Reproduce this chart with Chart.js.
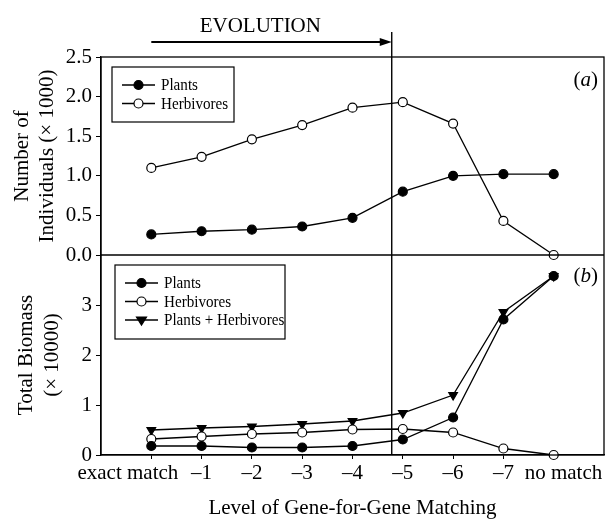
<!DOCTYPE html>
<html lang="en">
<head>
<meta charset="UTF-8" />
<title>Gene-for-Gene Matching</title>
<style>
  html, body { margin: 0; padding: 0; background: #fff; }
</style>
</head>
<body>
<canvas id="myChart" width="605" height="519"></canvas>
<script src="https://cdn.jsdelivr.net/npm/chart.js"></script>
<script>
const levels = ["exact match", "\u20131", "\u20132", "\u20133", "\u20134", "\u20135", "\u20136", "\u20137", "no match"];
// panel (a): number of individuals (x 1000)
const plantsCount = [0.26, 0.30, 0.32, 0.36, 0.47, 0.80, 1.00, 1.02, 1.02];
const herbivoresCount = [1.10, 1.24, 1.46, 1.64, 1.86, 1.93, 1.66, 0.43, 0.00];
// panel (b): total biomass (x 10000)
const plantsBiomass = [0.18, 0.18, 0.15, 0.15, 0.18, 0.31, 0.75, 2.71, 3.58];
const herbivoresBiomass = [0.32, 0.37, 0.42, 0.45, 0.51, 0.52, 0.45, 0.13, 0.00];
const totalBiomass = [0.50, 0.54, 0.57, 0.62, 0.68, 0.84, 1.20, 2.86, 3.58];
const countTicks = [0, 0.5, 1, 1.5, 2, 2.5];
const biomassTicks = [0, 1, 2, 3];
const evolutionEnd = 4.78;

const serif = '"Liberation Serif", "Times New Roman", serif';

function pts(values) {
  return values.map((v, i) => ({ x: i, y: v }));
}

function series(label, values, axis, style, fill) {
  return {
    label: label,
    data: pts(values),
    yAxisID: axis,
    borderColor: "#000",
    borderWidth: 1.3,
    pointStyle: style,
    pointRotation: style === "triangle" ? 180 : 0,
    pointRadius: style === "triangle" ? 5 : 4.5,
    pointHoverRadius: style === "triangle" ? 5 : 4.5,
    pointBorderWidth: 1.2,
    pointBackgroundColor: fill,
    pointBorderColor: "#000",
    backgroundColor: fill,
    tension: 0,
    clip: false,
  };
}

function marker(ctx, ds, x, y) {
  ctx.save();
  ctx.fillStyle = ds.pointBackgroundColor;
  ctx.strokeStyle = "#000";
  ctx.lineWidth = 1.2;
  ctx.beginPath();
  if (ds.pointStyle === "triangle") {
    const r = 5;
    ctx.moveTo(x - r, y - r * 0.6);
    ctx.lineTo(x + r, y - r * 0.6);
    ctx.lineTo(x, y + r);
    ctx.closePath();
  } else {
    ctx.arc(x, y, 4.5, 0, Math.PI * 2);
  }
  ctx.fill();
  ctx.stroke();
  ctx.restore();
}

function drawLegend(ctx, chart, axis, x, y, w, h) {
  const list = chart.data.datasets.filter((d) => d.yAxisID === axis);
  ctx.save();
  ctx.fillStyle = "#fff";
  ctx.fillRect(x, y, w, h);
  ctx.strokeStyle = "#000";
  ctx.lineWidth = 1.2;
  ctx.strokeRect(x, y, w, h);
  list.forEach((ds, i) => {
    const cy = y + 18 + i * 18.5;
    ctx.beginPath();
    ctx.moveTo(x + 10, cy);
    ctx.lineTo(x + 43, cy);
    ctx.lineWidth = 1.3;
    ctx.stroke();
    marker(ctx, ds, x + 26.5, cy);
    // the legend font is a narrow serif, so squeeze it a little
    ctx.save();
    ctx.translate(x + 49, cy + 1);
    ctx.scale(0.89, 1);
    ctx.font = "17px " + serif;
    ctx.textBaseline = "middle";
    ctx.textAlign = "left";
    ctx.fillStyle = "#000";
    ctx.fillText(ds.label, 0, 0);
    ctx.restore();
  });
  ctx.restore();
}

function panelLabel(ctx, letter, right, cy) {
  ctx.save();
  ctx.fillStyle = "#000";
  ctx.textBaseline = "middle";
  ctx.textAlign = "left";
  const up = "21px " + serif;
  const it = "italic 21px " + serif;
  ctx.font = up;
  const wp = ctx.measureText(")").width;
  ctx.font = it;
  const wl = ctx.measureText(letter).width;
  let x = right - wp * 2 - wl;
  ctx.font = up;
  ctx.fillText("(", x, cy);
  x += wp;
  ctx.font = it;
  ctx.fillText(letter, x, cy);
  x += wl;
  ctx.font = up;
  ctx.fillText(")", x, cy);
  ctx.restore();
}

const extras = {
  id: "extras",
  afterDraw(chart) {
    const ctx = chart.ctx;
    const area = chart.chartArea;
    const xs = chart.scales.x;
    const ya = chart.scales.yA;
    const yb = chart.scales.yB;
    ctx.save();
    ctx.strokeStyle = "#000";
    ctx.lineWidth = 1.3;
    ctx.strokeRect(area.left, area.top, area.right - area.left, area.bottom - area.top);
    ctx.beginPath();
    ctx.moveTo(area.left, ya.bottom);
    ctx.lineTo(area.right, ya.bottom);
    ctx.stroke();

    // evolution marker
    const ex = xs.getPixelForValue(evolutionEnd);
    ctx.beginPath();
    ctx.lineWidth = 1.4;
    ctx.moveTo(ex, 32);
    ctx.lineTo(ex, area.bottom);
    ctx.stroke();
    const ax = xs.getPixelForValue(0);
    const ay = 42;
    ctx.beginPath();
    ctx.lineWidth = 2;
    ctx.moveTo(ax, ay);
    ctx.lineTo(ex - 8, ay);
    ctx.stroke();
    ctx.beginPath();
    ctx.fillStyle = "#000";
    ctx.moveTo(ex - 12, ay - 4);
    ctx.lineTo(ex, ay);
    ctx.lineTo(ex - 12, ay + 4);
    ctx.closePath();
    ctx.fill();
    ctx.font = "21px " + serif;
    ctx.textAlign = "center";
    ctx.textBaseline = "alphabetic";
    ctx.fillText("EVOLUTION", ax + 109, 32);

    // x category labels
    ctx.textBaseline = "middle";
    levels.forEach((lab, i) => {
      const px = xs.getPixelForValue(i);
      if (i === 0) {
        ctx.textAlign = "right";
        ctx.fillText(lab, px + 27, 473);
      } else if (i === levels.length - 1) {
        ctx.textAlign = "left";
        ctx.fillText(lab, px - 29, 473);
      } else {
        ctx.textAlign = "center";
        ctx.fillText(lab, px, 473);
      }
    });
    ctx.restore();

    drawLegend(ctx, chart, "yA", area.left + 11, area.top + 10, 122, 55);
    drawLegend(ctx, chart, "yB", area.left + 14, yb.top + 10, 170, 74);
    panelLabel(ctx, "a", area.right - 6, area.top + 23);
    panelLabel(ctx, "b", area.right - 6, yb.top + 21);
  },
};

const ctx = document.getElementById("myChart").getContext("2d");
const myChart = new Chart(ctx, {
  type: "line",
  data: {
    datasets: [
      series("Plants", plantsCount, "yA", "circle", "#000"),
      series("Herbivores", herbivoresCount, "yA", "circle", "#fff"),
      series("Plants", plantsBiomass, "yB", "circle", "#000"),
      series("Herbivores", herbivoresBiomass, "yB", "circle", "#fff"),
      series("Plants + Herbivores", totalBiomass, "yB", "triangle", "#000"),
    ],
  },
  options: {
    responsive: false,
    animation: false,
    layout: { autoPadding: false, padding: { top: 57, right: 1, bottom: 0, left: 0 } },
    plugins: { legend: { display: false }, tooltip: { enabled: false } },
    scales: {
      x: {
        type: "linear",
        min: -1,
        max: 9,
        afterBuildTicks: (s) => {
          s.ticks = levels.map((_, i) => ({ value: i }));
        },
        afterFit: (s) => {
          s.height = 64;
        },
        ticks: { display: false },
        grid: { drawOnChartArea: false, drawTicks: true, tickLength: 4, color: "#000" },
        border: { color: "#000", width: 1.3 },
        title: {
          display: true,
          text: "Level of Gene-for-Gene Matching",
          color: "#000",
          font: { family: serif, size: 21, lineHeight: 1 },
          padding: 0,
        },
      },
      // stacked panels: the first one listed sits at the bottom
      yB: {
        type: "linear",
        position: "left",
        stack: "panels",
        stackWeight: 200,
        min: 0,
        max: 4,
        afterBuildTicks: (s) => {
          s.ticks = biomassTicks.map((v) => ({ value: v }));
        },
        afterFit: (s) => {
          s.width = 101;
        },
        ticks: {
          color: "#000",
          padding: 4,
          autoSkip: false,
          font: { family: serif, size: 21 },
        },
        grid: { drawOnChartArea: false, drawTicks: true, tickLength: 5, color: "#000" },
        border: { color: "#000", width: 1.3 },
        title: {
          display: true,
          text: ["Total Biomass", "(\u00d7 10000)"],
          color: "#000",
          font: { family: serif, size: 21, lineHeight: 1.25 },
          padding: { top: 13, bottom: 0 },
        },
      },
      yA: {
        type: "linear",
        position: "left",
        stack: "panels",
        stackWeight: 198,
        min: 0,
        max: 2.5,
        afterBuildTicks: (s) => {
          s.ticks = countTicks.map((v) => ({ value: v }));
        },
        afterFit: (s) => {
          s.width = 101;
        },
        ticks: {
          color: "#000",
          padding: 4,
          autoSkip: false,
          font: { family: serif, size: 21 },
          callback: (v) => v.toFixed(1),
        },
        grid: { drawOnChartArea: false, drawTicks: true, tickLength: 5, color: "#000" },
        border: { color: "#000", width: 1.3 },
        title: {
          display: true,
          text: ["Number of", "Individuals (\u00d7 1000)"],
          color: "#000",
          font: { family: serif, size: 21, lineHeight: 1.2 },
          padding: { top: 10, bottom: 0 },
        },
      },
    },
  },
  plugins: [extras],
});
</script>
</body>
</html>
